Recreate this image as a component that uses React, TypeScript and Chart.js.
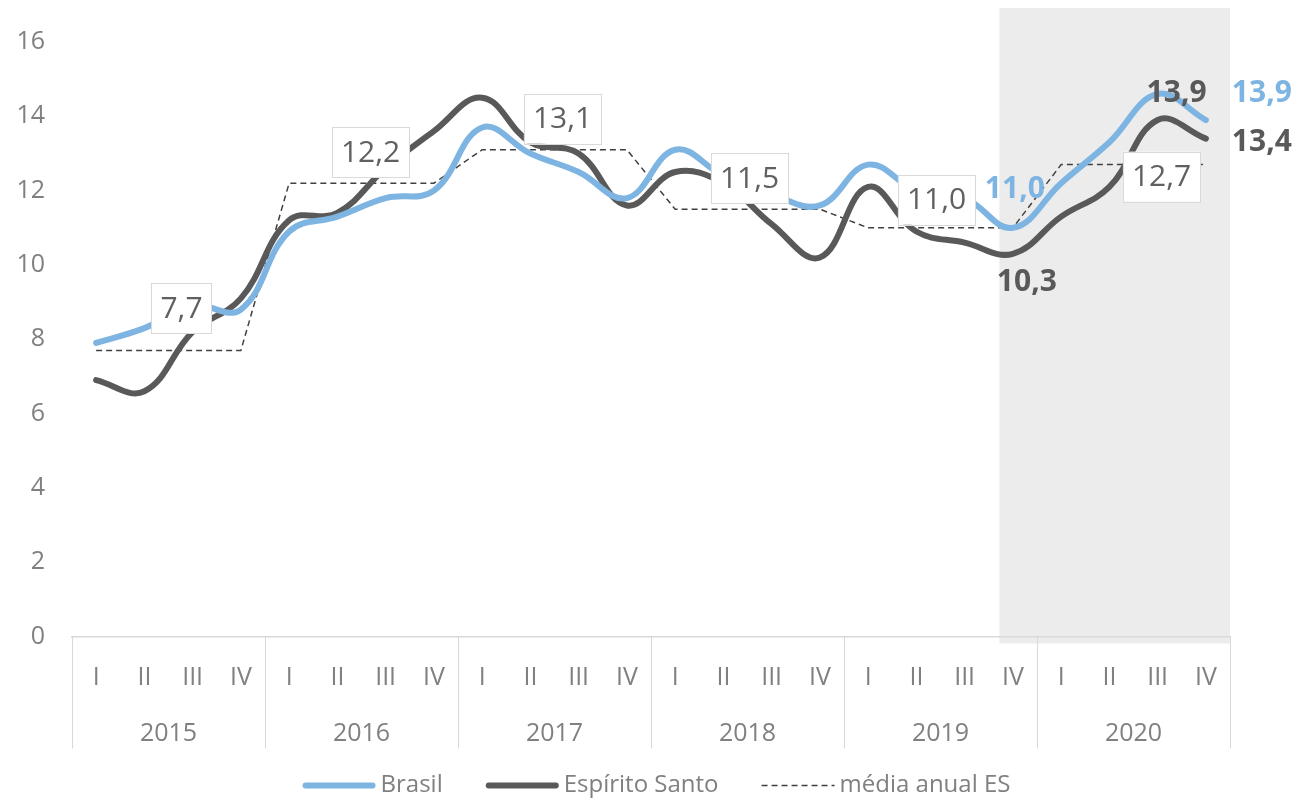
import React, { useEffect, useRef } from 'react';
import { Chart, registerables } from 'chart.js';

Chart.register(...registerables);

// ---------- data ----------
const years = ['2015', '2016', '2017', '2018', '2019', '2020'];
const quarterLabels = [
  'I', 'II', 'III', 'IV',
  'I', 'II', 'III', 'IV',
  'I', 'II', 'III', 'IV',
  'I', 'II', 'III', 'IV',
  'I', 'II', 'III', 'IV',
  'I', 'II', 'III', 'IV',
];
const brasil = [
  7.9, 8.3, 8.9, 8.8,
  10.9, 11.3, 11.8, 12.0,
  13.7, 13.0, 12.5, 11.8,
  13.1, 12.4, 11.9, 11.6,
  12.7, 12.0, 11.8, 11.0,
  12.2, 13.3, 14.6, 13.9,
];
const espiritoSanto = [
  6.9, 6.6, 8.2, 9.1,
  11.2, 11.4, 12.6, 13.6,
  14.5, 13.3, 13.0, 11.6,
  12.5, 12.2, 11.1, 10.2,
  12.1, 10.9, 10.6, 10.3,
  11.3, 12.1, 13.9, 13.4,
];
const mediaAnualES = [
  7.7, 7.7, 7.7, 7.7,
  12.2, 12.2, 12.2, 12.2,
  13.1, 13.1, 13.1, 13.1,
  11.5, 11.5, 11.5, 11.5,
  11.0, 11.0, 11.0, 11.0,
  12.7, 12.7, 12.7, 12.7,
];
const yMin = 0;
const yMax = 16;
const yStep = 2;
const highlightStartIndex = 19; // 2019 IV

// ---------- styles ----------
const FONT = '"Open Sans", "DejaVu Sans", sans-serif';
const BLUE = '#7db4e2';
const DARK = '#595959';
const DASH = '#404040';
const TICK = '#808080';

// offsets of the yearly-average boxes (dx from middle of II/III, dy of box centre from value)
const avgLabelOffsets = [
  [13, -42], [9, -31], [8, -31], [2, -31], [-4, -28], [28, 12],
];
// bold callouts: series index, point index, offset
const callouts = [
  { series: 0, index: 19, dx: 2, dy: -38 },
  { series: 1, index: 19, dx: 14, dy: 29 },
  { series: 1, index: 22, dx: 19, dy: -27 },
  { series: 0, index: 23, dx: 56, dy: -27 },
  { series: 1, index: 23, dx: 56, dy: 4 },
];

const fmt = (v: number) => v.toFixed(1).replace('.', ',');

const highlightPlugin = {
  id: 'highlight',
  beforeDraw(chart: any) {
    const { ctx, chartArea } = chart;
    const xs = chart.scales.x;
    const cat = (xs.right - xs.left) / quarterLabels.length;
    const x0 = xs.getPixelForValue(highlightStartIndex) - cat * 0.28;
    ctx.save();
    ctx.fillStyle = '#ececec';
    ctx.fillRect(x0, 0, chartArea.right - x0, chartArea.bottom + 7);
    ctx.restore();
  },
};

const separatorPlugin = {
  id: 'separators',
  afterDraw(chart: any) {
    const { ctx, chartArea } = chart;
    const xs = chart.scales.x;
    const x2 = chart.scales.x2;
    const cat = (xs.right - xs.left) / quarterLabels.length;
    ctx.save();
    ctx.strokeStyle = '#d9d9d9';
    ctx.lineWidth = 1;
    for (let k = 0; k <= years.length; k++) {
      const x = Math.round(xs.left + k * 4 * cat) + 0.5;
      ctx.beginPath();
      ctx.moveTo(x, chartArea.bottom);
      ctx.lineTo(x, x2.bottom);
      ctx.stroke();
    }
    ctx.restore();
  },
};

const labelPlugin = {
  id: 'valueLabels',
  afterDatasetsDraw(chart: any) {
    const { ctx } = chart;
    const xs = chart.scales.x;
    const ys = chart.scales.y;
    ctx.save();
    ctx.textAlign = 'center';
    ctx.textBaseline = 'middle';
    // yearly averages in boxes
    ctx.font = `30px ${FONT}`;
    years.forEach((_, k) => {
      const v = mediaAnualES[k * 4 + 1];
      const [dx, dy] = avgLabelOffsets[k];
      const cx = (xs.getPixelForValue(k * 4 + 1) + xs.getPixelForValue(k * 4 + 2)) / 2 + dx;
      const cy = ys.getPixelForValue(v) + dy;
      const t = fmt(v);
      const w = ctx.measureText(t).width + 18;
      const h = 50;
      ctx.fillStyle = '#ffffff';
      ctx.fillRect(cx - w / 2, cy - h / 2, w, h);
      ctx.strokeStyle = '#d9d9d9';
      ctx.lineWidth = 1;
      ctx.strokeRect(Math.round(cx - w / 2) + 0.5, Math.round(cy - h / 2) + 0.5, Math.round(w), h);
      ctx.fillStyle = '#606060';
      ctx.fillText(t, cx, cy + 1);
    });
    // bold callouts
    ctx.font = `bold 30px ${FONT}`;
    callouts.forEach((c) => {
      const ds = chart.data.datasets[c.series];
      const v = ds.data[c.index];
      const x = xs.getPixelForValue(c.index) + c.dx;
      const y = ys.getPixelForValue(v) + c.dy;
      ctx.fillStyle = ds.borderColor;
      ctx.fillText(fmt(v), x, y);
    });
    ctx.restore();
  },
};

const legendPlugin = {
  id: 'customLegend',
  afterDraw(chart: any) {
    const { ctx } = chart;
    const items = chart.data.datasets;
    const lineLen = 73;
    const gapText = 5;
    const gapItem = 43;
    ctx.save();
    ctx.font = `24px ${FONT}`;
    const widths = items.map((d: any) => lineLen + gapText + ctx.measureText(d.label).width);
    const total = widths.reduce((a: number, b: number) => a + b, 0) + gapItem * (items.length - 1);
    let x = chart.width / 2 + 3 - total / 2;
    const y = chart.scales.x2.bottom + 37;
    items.forEach((d: any, i: number) => {
      ctx.strokeStyle = d.borderColor;
      ctx.lineWidth = d.borderDash ? 1.5 : d.borderWidth;
      ctx.setLineDash(d.borderDash || []);
      ctx.lineCap = d.borderDash ? 'butt' : 'round';
      ctx.beginPath();
      const inset = d.borderDash ? 0 : 3;
      ctx.moveTo(x + inset, y);
      ctx.lineTo(x + lineLen - inset, y);
      ctx.stroke();
      ctx.setLineDash([]);
      ctx.fillStyle = TICK;
      ctx.textAlign = 'left';
      ctx.textBaseline = 'middle';
      ctx.fillText(d.label, x + lineLen + gapText, y);
      x += widths[i] + gapItem;
    });
    ctx.restore();
  },
};

export default function App() {
  const ref = useRef<HTMLCanvasElement | null>(null);

  useEffect(() => {
    if (!ref.current) return;
    Chart.defaults.font.family = FONT;
    const chart = new Chart(ref.current, {
      type: 'line',
      data: {
        labels: quarterLabels,
        datasets: [
          {
            label: 'Brasil',
            data: brasil,
            borderColor: BLUE,
            backgroundColor: BLUE,
            borderWidth: 6,
            tension: 0.4,
            pointRadius: 0,
            borderCapStyle: 'round',
            fill: false,
          },
          {
            label: 'Espírito Santo',
            data: espiritoSanto,
            borderColor: DARK,
            backgroundColor: DARK,
            borderWidth: 6,
            tension: 0.4,
            pointRadius: 0,
            borderCapStyle: 'round',
            fill: false,
          },
          {
            label: 'média anual ES',
            data: mediaAnualES,
            borderColor: DASH,
            backgroundColor: DASH,
            borderWidth: 1.5,
            borderDash: [6, 4],
            tension: 0,
            pointRadius: 0,
            fill: false,
          },
        ],
      },
      options: {
        responsive: false,
        animation: false,
        layout: { padding: { top: 34, right: 69, bottom: 50.5, left: 0 } },
        plugins: {
          legend: { display: false },
          tooltip: { enabled: false },
        },
        scales: {
          x: {
            type: 'category',
            offset: true,
            weight: 0,
            grid: { display: false, drawTicks: false },
            border: { display: true, color: '#d9d9d9', width: 1.5 },
            ticks: {
              font: { size: 25, family: FONT },
              color: TICK,
              padding: 26,
              maxRotation: 0,
              autoSkip: false,
            },
            afterFit: (s: any) => { s.height = 68; },
          },
          x2: {
            type: 'category',
            labels: years,
            offset: true,
            position: 'bottom',
            weight: 1,
            grid: { display: false, drawTicks: false },
            border: { display: false },
            ticks: {
              font: { size: 25, family: FONT },
              color: TICK,
              padding: 14.5,
              maxRotation: 0,
              autoSkip: false,
            },
            afterFit: (s: any) => { s.height = 44; },
          },
          y: {
            min: yMin,
            max: yMax,
            grid: { display: false, drawTicks: false },
            border: { display: false },
            ticks: {
              stepSize: yStep,
              font: { size: 25, family: FONT },
              color: TICK,
              padding: 27,
            },
            afterFit: (s: any) => {
              s.width = 64;
              s.paddingTop = 0;
              s.paddingBottom = 0;
            },
          },
        },
      } as any,
      plugins: [highlightPlugin, separatorPlugin, labelPlugin, legendPlugin],
    });
    return () => chart.destroy();
  }, []);

  return (
    <div style={{ width: 1291, height: 791 }}>
      <canvas ref={ref} width={1291} height={791} style={{ display: 'block' }} />
    </div>
  );
}
